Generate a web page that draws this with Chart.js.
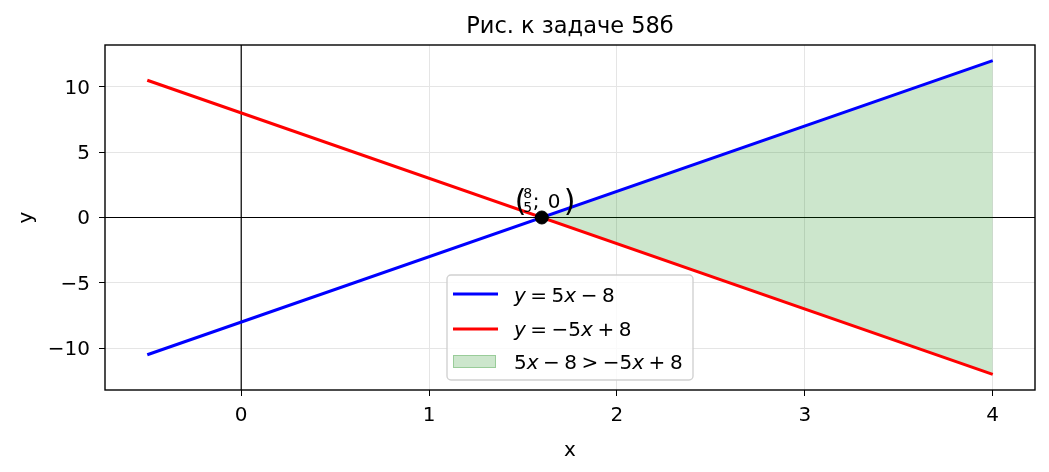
<!DOCTYPE html>
<html lang="ru">
<head>
    <meta charset="UTF-8">
    <title>Рис. к задаче 58б</title>
    <script src="https://cdn.jsdelivr.net/npm/chart.js"></script>
    <style>
        body { margin: 0; background: #fff; }
        #wrap { width: 1049px; height: 472px; }
    </style>
</head>
<body>
    <div id="wrap"><canvas id="chart" width="1049" height="472"></canvas></div>

    <script>
        // данные
        const xTicks = [0, 1, 2, 3, 4];
        const yTicks = [-10, -5, 0, 5, 10];
        const xRange = [-0.725, 4.225];
        const yRange = [-13.2, 13.2];

        const lineX = [-0.5, 4];
        const blueY = [-10.5, 12];   // y = 5x - 8
        const redY = [10.5, -12];    // y = -5x + 8

        const fillX = [1.6, 4];
        const fillUpper = [0, 12];
        const fillLower = [0, -12];

        const pointX = [1.6];
        const pointY = [0];

        const titleText = 'Рис. к задаче 58б';
        const FONT = '"DejaVu Sans", sans-serif';

        const pts = (xs, ys) => xs.map((x, i) => ({ x: x, y: ys[i] }));
        const minus = v => String(v).replace('-', '\u2212');

        // рисует строку из кусков [текст, курсив]; число = отступ в px
        function drawParts(ctx, parts, x, y, size) {
            let cx = x;
            parts.forEach(p => {
                if (typeof p === 'number') { cx += p; return; }
                ctx.font = (p[1] ? 'italic ' : '') + size + 'px ' + FONT;
                ctx.fillText(p[0], cx, y);
                cx += ctx.measureText(p[0]).width;
            });
        }

        const decor = {
            id: 'decor',
            beforeDatasetsDraw(chart) {
                const ctx = chart.ctx, a = chart.chartArea;
                const sx = chart.scales.x, sy = chart.scales.y;
                ctx.save();
                ctx.strokeStyle = '#000';
                ctx.lineWidth = 1.2;
                const x0 = sx.getPixelForValue(0), y0 = sy.getPixelForValue(0);
                ctx.beginPath();
                ctx.moveTo(a.left, y0); ctx.lineTo(a.right, y0);
                ctx.moveTo(x0, a.top); ctx.lineTo(x0, a.bottom);
                ctx.stroke();
                ctx.restore();
            },
            afterDatasetsDraw(chart) {
                const ctx = chart.ctx, a = chart.chartArea;
                const sx = chart.scales.x, sy = chart.scales.y;
                ctx.save();
                // рамка
                ctx.strokeStyle = '#000';
                ctx.lineWidth = 1.4;
                ctx.strokeRect(a.left, a.top, a.right - a.left, a.bottom - a.top);

                // подпись точки
                const px = sx.getPixelForValue(pointX[0]);
                const py = sy.getPixelForValue(pointY[0]);
                ctx.fillStyle = '#000';
                ctx.textBaseline = 'alphabetic';
                ctx.textAlign = 'left';
                ctx.font = '30px ' + FONT;
                ctx.fillText('(', px - 27, py - 7);
                ctx.fillText(')', px + 22, py - 7);
                ctx.font = '14px ' + FONT;
                ctx.fillText('8', px - 18.5, py - 20);
                ctx.fillText('5', px - 18.5, py - 6);
                ctx.font = '20px ' + FONT;
                ctx.fillText(';', px - 9, py - 10);
                ctx.fillText('0', px + 6, py - 10);

                // заголовок и подписи осей
                ctx.textAlign = 'center';
                ctx.font = '22.5px ' + FONT;
                ctx.fillText(titleText, (a.left + a.right) / 2, 33);
                ctx.font = '20px ' + FONT;
                ctx.fillText('x', (a.left + a.right) / 2, 456);
                ctx.save();
                ctx.translate(32, (a.top + a.bottom) / 2);
                ctx.rotate(-Math.PI / 2);
                ctx.fillText('y', 0, 0);
                ctx.restore();

                // легенда
                const w = 246, h = 105;
                const lx = (a.left + a.right) / 2 - w / 2, ly = a.bottom - 10 - h;
                ctx.fillStyle = 'rgba(255,255,255,0.8)';
                ctx.strokeStyle = 'rgba(204,204,204,0.9)';
                ctx.lineWidth = 1.4;
                ctx.beginPath();
                ctx.roundRect(lx, ly, w, h, 4);
                ctx.fill();
                ctx.stroke();

                ctx.lineWidth = 3;
                ctx.strokeStyle = '#0000ff';
                ctx.beginPath(); ctx.moveTo(lx + 6, ly + 19); ctx.lineTo(lx + 51, ly + 19); ctx.stroke();
                ctx.strokeStyle = '#ff0000';
                ctx.beginPath(); ctx.moveTo(lx + 6, ly + 54); ctx.lineTo(lx + 51, ly + 54); ctx.stroke();
                ctx.fillStyle = 'rgba(0,128,0,0.2)';
                ctx.strokeStyle = 'rgba(0,128,0,0.25)';
                ctx.lineWidth = 1;
                ctx.fillRect(lx + 6, ly + 80, 43, 13);
                ctx.strokeRect(lx + 6.5, ly + 80.5, 42, 12);

                ctx.fillStyle = '#000';
                ctx.textAlign = 'left';
                const tx = lx + 67, g = 4.5;
                drawParts(ctx, [['y', 1], g, ['=', 0], g, ['5', 0], ['x', 1], g, ['\u2212', 0], g, ['8', 0]], tx, ly + 27, 20);
                drawParts(ctx, [['y', 1], g, ['=', 0], g, ['\u22125', 0], ['x', 1], g, ['+', 0], g, ['8', 0]], tx, ly + 61, 20);
                drawParts(ctx, [['5', 0], ['x', 1], g, ['\u2212', 0], g, ['8', 0], g, ['>', 0], g, ['\u22125', 0], ['x', 1], g, ['+', 0], g, ['8', 0]], tx, ly + 94, 20);
                ctx.restore();
            }
        };

        const tickFont = { family: 'DejaVu Sans', size: 20 };

        new Chart(document.getElementById('chart'), {
            type: 'scatter',
            data: {
                datasets: [
                    { data: pts(fillX, fillLower), showLine: true, borderWidth: 0, pointRadius: 0, fill: false, order: 5 },
                    { data: pts(fillX, fillUpper), showLine: true, borderWidth: 0, pointRadius: 0,
                      fill: '-1', backgroundColor: 'rgba(0,128,0,0.2)', order: 4 },
                    { data: pts(lineX, blueY), showLine: true, borderColor: '#0000ff', borderWidth: 3, pointRadius: 0, order: 2 },
                    { data: pts(lineX, redY), showLine: true, borderColor: '#ff0000', borderWidth: 3, pointRadius: 0, order: 1 },
                    { data: pts(pointX, pointY), pointRadius: 6.5, backgroundColor: '#000', borderColor: '#000', order: 0 }
                ]
            },
            options: {
                responsive: false,
                animation: false,
                layout: { padding: { top: 45, right: 14, left: 0, bottom: 0 } },
                plugins: { legend: { display: false }, title: { display: false }, tooltip: { enabled: false } },
                scales: {
                    x: {
                        type: 'linear', min: xRange[0], max: xRange[1],
                        afterBuildTicks: s => { s.ticks = xTicks.map(v => ({ value: v })); },
                        afterFit: s => { s.height = 82; },
                        ticks: { font: tickFont, color: '#000', padding: 8, callback: minus },
                        grid: { color: '#e5e5e5', lineWidth: 1, tickColor: '#000', tickLength: 6 },
                        border: { display: false }
                    },
                    y: {
                        type: 'linear', min: yRange[0], max: yRange[1],
                        afterBuildTicks: s => { s.ticks = yTicks.map(v => ({ value: v })); },
                        afterFit: s => { s.width = 105; },
                        ticks: { font: tickFont, color: '#000', padding: 9, labelOffset: 1.5, callback: minus },
                        grid: { color: '#e5e5e5', lineWidth: 1, tickColor: '#000', tickLength: 6 },
                        border: { display: false }
                    }
                }
            },
            plugins: [decor]
        });
    </script>
</body>
</html>
